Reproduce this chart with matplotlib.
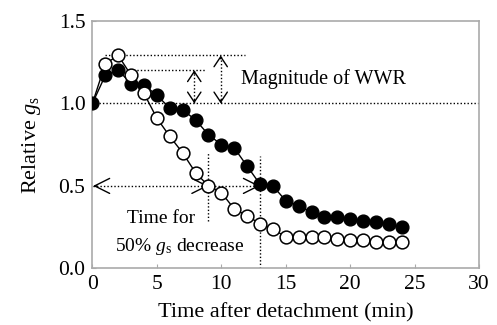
import numpy as np
import matplotlib
matplotlib.use("Agg")
import matplotlib.pyplot as plt

plt.rcParams['font.family'] = ['Liberation Serif', 'DejaVu Serif']
plt.rcParams['mathtext.fontset'] = 'custom'
plt.rcParams['mathtext.it'] = 'Liberation Serif:italic'
plt.rcParams['mathtext.rm'] = 'Liberation Serif'

minutes = list(range(0, 25))
filled = [1.00, 1.17, 1.20, 1.12, 1.11, 1.05, 0.97, 0.96, 0.90, 0.81, 0.75, 0.73,
          0.62, 0.51, 0.50, 0.41, 0.38, 0.34, 0.31, 0.31, 0.30, 0.29, 0.28, 0.27, 0.25]
opened = [1.00, 1.24, 1.29, 1.17, 1.06, 0.91, 0.80, 0.70, 0.58, 0.50, 0.46, 0.36,
          0.32, 0.27, 0.24, 0.19, 0.19, 0.19, 0.19, 0.18, 0.17, 0.17, 0.16, 0.16, 0.16]

t50_open = 9
t50_filled = 13
peak_open = 1.29
peak_filled = 1.20

fig = plt.figure(figsize=(4.97, 3.25), dpi=100)
ax = fig.add_axes([0.186, 0.174, 0.778, 0.762])

dot = dict(color='black', ls=(0, (1, 1.5)), lw=1.0)

# reference lines
ax.plot([0, 30], [1.0, 1.0], **dot)
ax.plot([1.0, 11.8], [peak_open, peak_open], **dot)
ax.plot([1.8, 8.8], [peak_filled, peak_filled], **dot)
ax.plot([7.9, 7.9], [1.0, peak_filled], **dot)
ax.plot([9.95, 9.95], [1.0, peak_open], **dot)
ax.plot([0.05, t50_filled], [0.5, 0.5], **dot)
ax.plot([t50_open, t50_open], [0.29, 0.70], **dot)
ax.plot([t50_filled, t50_filled], [0.0, 0.68], **dot)

hhead = dict(arrowstyle='->,head_length=0.9,head_width=0.45', lw=1.0, color='black',
             shrinkA=0, shrinkB=0, mutation_scale=12)
vhead = dict(arrowstyle='->,head_length=0.6,head_width=0.4', lw=1.0, color='black',
             shrinkA=0, shrinkB=0, mutation_scale=12)
def chevron(x, y, dx, dy, style):
    ax.annotate('', xy=(x, y), xytext=(x - dx, y - dy), arrowprops=style)

chevron(7.9, 1.0, 0, -0.02, vhead)
chevron(7.9, peak_filled, 0, 0.02, vhead)
chevron(9.95, 1.0, 0, -0.02, vhead)
chevron(9.95, peak_open, 0, 0.02, vhead)
chevron(0.05, 0.5, -0.3, 0, hhead)
chevron(t50_open, 0.5, 0.3, 0, hhead)
chevron(t50_filled, 0.5, 0.3, 0, hhead)

ax.plot(minutes, filled, color='black', lw=1.0, marker='o', ms=9.2,
        mfc='black', mec='black', zorder=3)
ax.plot(minutes, opened, color='black', lw=1.0, marker='o', ms=9.2,
        mfc='white', mec='black', mew=1.1, zorder=4, markevery=list(range(1, 25)))

ax.text(11.5, 1.145, 'Magnitude of WWR', fontsize=14.5, va='center', ha='left')
ax.text(5.3, 0.30, 'Time for', fontsize=14, va='center', ha='center')
ax.text(6.8, 0.13, r'50% $g_{\rm s}$ decrease', fontsize=14, va='center', ha='center')

ax.set_xlim(0, 30)
ax.set_ylim(0, 1.5)
ax.set_xticks([0, 5, 10, 15, 20, 25, 30])
ax.set_yticks([0.0, 0.5, 1.0, 1.5])
ax.set_yticklabels(['0.0', '0.5', '1.0', '1.5'])
ax.tick_params(labelsize=15.5, length=3, direction='in', color='#aaaaaa', pad=5)
for s in ax.spines.values():
    s.set_color('#aaaaaa')
    s.set_linewidth(1.2)
ax.set_xlabel('Time after detachment (min)', fontsize=16, labelpad=6)
ax.set_ylabel(r'Relative $g_{\rm s}$', fontsize=16, labelpad=11)

fig.savefig('out.png', dpi=100)
